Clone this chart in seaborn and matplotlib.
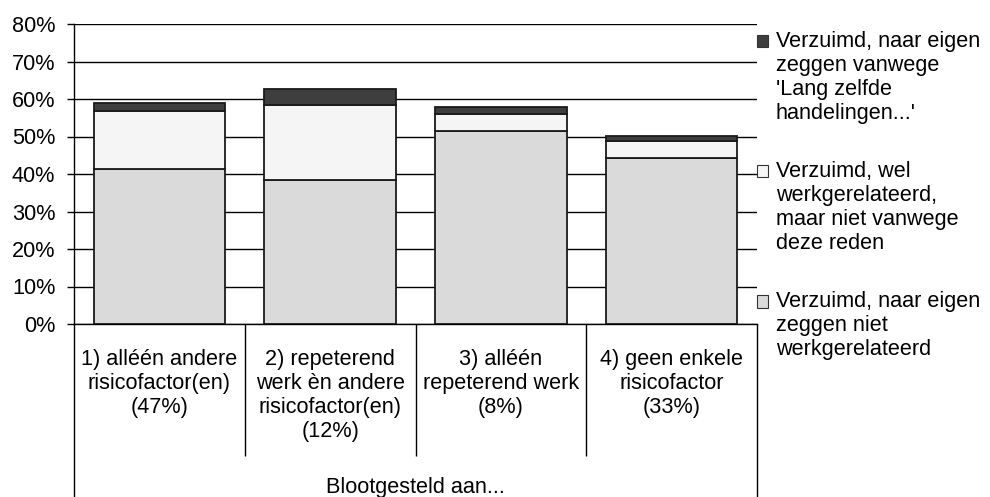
import matplotlib
matplotlib.use("Agg")
import matplotlib.pyplot as plt
import seaborn as sns
import pandas as pd
from matplotlib.patches import Rectangle
from matplotlib.lines import Line2D
from matplotlib.legend_handler import HandlerBase
from matplotlib.ticker import FuncFormatter, FixedLocator

categories = [
    "1) alléén andere\nrisicofactor(en)\n(47%)",
    "2) repeterend\nwerk èn andere\nrisicofactor(en)\n(12%)",
    "3) alléén\nrepeterend werk\n(8%)",
    "4) geen enkele\nrisicofactor\n(33%)",
]
niet_werkgerelateerd = [41.3, 38.4, 51.6, 44.3]
wel_werkgerelateerd = [15.5, 19.9, 4.4, 4.5]
lang_zelfde = [2.1, 4.3, 1.9, 1.3]

series_labels = [
    "Verzuimd, naar eigen\nzeggen vanwege\n'Lang zelfde\nhandelingen...'",
    "Verzuimd, wel\nwerkgerelateerd,\nmaar niet vanwege\ndeze reden",
    "Verzuimd, naar eigen\nzeggen niet\nwerkgerelateerd",
]
xlabel = "Blootgesteld aan..."
yticks = [0, 10, 20, 30, 40, 50, 60, 70, 80]

sns.set_theme(style="white")
plt.rcParams["font.family"] = ["Liberation Sans", "DejaVu Sans"]
FS = 15.6
LS = 1.19

W, H = 990, 497
fig = plt.figure(figsize=(W / 100, H / 100), dpi=100)
x0, x1, ytop, ybot = 74, 757, 24, 324
ax = fig.add_axes([x0 / W, (H - ybot) / H, (x1 - x0) / W, (ybot - ytop) / H])

df = pd.DataFrame({
    "cat": categories,
    "base": niet_werkgerelateerd,
    "mid": wel_werkgerelateerd,
    "top": lang_zelfde,
})
df["b2"] = df["base"] + df["mid"]

colors = {"base": "#dadada", "mid": "#f5f5f5", "top": "#3e3e3e"}
common = dict(order=categories, width=0.77, edgecolor="#1a1a1a", linewidth=1.3,
              saturation=1, ax=ax, zorder=3)
sns.barplot(data=df, x="cat", y="base", color=colors["base"], **common)
sns.barplot(data=df, x="cat", y="mid", bottom=df["base"], color=colors["mid"], **common)
sns.barplot(data=df, x="cat", y="top", bottom=df["b2"], color=colors["top"], **common)

ax.set_xlim(-0.5, len(categories) - 0.5)
ax.set_ylim(0, 80)
ax.set_yticks(yticks)
ax.yaxis.set_major_formatter(FuncFormatter(lambda v, p: f"{v:.0f}%"))
ax.yaxis.grid(True, color="black", linewidth=1.0)
ax.set_axisbelow(True)
for s in ["top", "right"]:
    ax.spines[s].set_visible(False)
for s in ["left", "bottom"]:
    ax.spines[s].set_color("black")
    ax.spines[s].set_linewidth(1.0)

ax.tick_params(axis="y", which="major", left=True, length=5, width=1, color="black",
               labelsize=FS, labelcolor="black", pad=8.5)
ax.set_xticks(range(len(categories)))
ax.set_xticklabels(categories, fontsize=FS, color="black", linespacing=LS)
ax.tick_params(axis="x", which="major", bottom=True, length=0, pad=18)
ax.xaxis.set_minor_locator(FixedLocator([0.5, 1.5, 2.5]))
ax.tick_params(axis="x", which="minor", bottom=True, length=95, width=1, color="black",
               direction="out")
ax.set_xlabel(xlabel, fontsize=FS, color="black")
ax.xaxis.label.set_va("center")
ax.xaxis.set_label_coords(0.5, (ybot - 487) / (ybot - ytop))
ax.set_ylabel("")

# outer box of the category axis
fig.add_artist(Line2D([x0 / W, x0 / W], [0, (H - ybot) / H], color="black", lw=1.0))
fig.add_artist(Line2D([x1 / W, x1 / W], [0, (H - ybot) / H], color="black", lw=1.0))


class TopSquare(HandlerBase):
    def __init__(self, nlines, line_pt, **kw):
        super().__init__(**kw)
        self.n = nlines
        self.line_pt = line_pt

    def create_artists(self, legend, orig_handle, xdescent, ydescent, width, height,
                       fontsize, trans):
        shift = (self.n - 1) / 2 * self.line_pt
        r = Rectangle((-xdescent, -ydescent + shift), width, height,
                      facecolor=orig_handle.get_facecolor(),
                      edgecolor="#333333", linewidth=0.8, transform=trans)
        return [r]


handles = [Rectangle((0, 0), 1, 1, facecolor=colors[k]) for k in ["top", "mid", "base"]]
line_pt = 24.5 * 0.72
hmap = {h: TopSquare(lbl.count("\n") + 1, line_pt) for h, lbl in zip(handles, series_labels)}
leg = fig.legend(handles, series_labels, loc="upper left",
                 bbox_to_anchor=(757 / W, (H - 31) / H), frameon=False, fontsize=FS,
                 handlelength=0.52, handleheight=0.52, handletextpad=0.35,
                 labelspacing=1.7, borderpad=0, borderaxespad=0, handler_map=hmap)
for t in leg.get_texts():
    t.set_linespacing(LS)
    t.set_color("black")

fig.savefig("out.png", dpi=100)
